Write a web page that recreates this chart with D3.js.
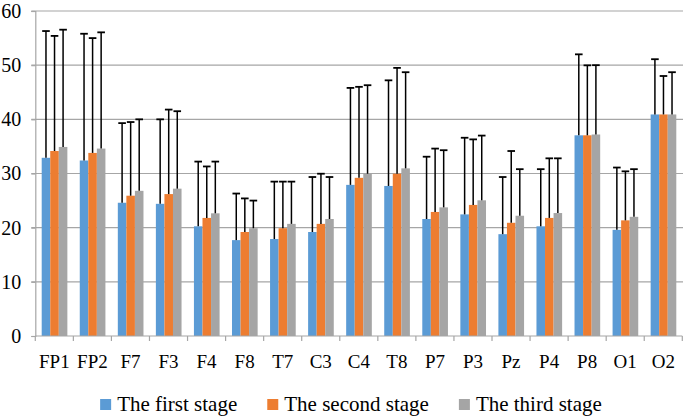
<!DOCTYPE html>
<html>
<head>
<meta charset="utf-8">
<script src="https://cdn.jsdelivr.net/npm/d3@7"></script>
<style>
  html, body { margin: 0; padding: 0; background: #fff; }
  svg { display: block; }
  text { font-family: "Liberation Serif", "Times New Roman", serif; fill: #000; }
</style>
</head>
<body>
<svg id="chart" width="683" height="420"></svg>
<script>
const categories = ["FP1","FP2","F7","F3","F4","F8","T7","C3","C4","T8","P7","P3","Pz","P4","P8","O1","O2"];
const seriesNames = ["The first stage","The second stage","The third stage"];
const firstMean  = [32.9,32.4,24.6,24.4,20.25,17.7,17.9,19.2,27.9,27.7,21.6,22.45,18.8,20.25,37.05,19.6,40.9];
const firstSD    = [23.4,23.4,14.7,15.6,11.95,8.6,10.6,10.15,17.9,19.5,11.5,14.15,10.55,10.55,14.95,11.5,10.2];
const secondMean = [34.15,33.8,25.9,26.2,21.8,19.2,19.9,20.7,29.2,29.96,22.9,24.2,20.9,21.8,37.05,21.35,40.9];
const secondSD   = [21.25,21.2,13.6,15.6,9.5,6.2,8.6,9.26,16.8,19.54,11.7,12.1,13.25,11.0,12.92,9.05,7.1];
const thirdMean  = [34.9,34.6,26.8,27.2,22.65,19.9,20.7,21.6,29.96,30.95,23.75,25.05,22.2,22.7,37.2,22.0,40.9];
const thirdSD    = [21.65,21.46,13.2,14.3,9.55,5.1,7.8,7.75,16.34,17.75,10.55,11.95,8.6,10.1,12.8,8.8,7.8];
const yTicks = [0,10,20,30,40,50,60];
const colors = ["#5b9bd5","#ed7d31","#a5a5a5"];

const means = [firstMean, secondMean, thirdMean];
const sds = [firstSD, secondSD, thirdSD];
const FONT = '"Liberation Serif", "Times New Roman", serif';

const svg = d3.select("#chart");
const mLeft = 35.3, mRight = 682.3, mTop = 11, mBottom = 336;

const y = d3.scaleLinear().domain([0, 60]).range([mBottom, mTop]);
const x0 = d3.scaleBand().domain(categories).range([mLeft, mRight]).padding(0);
const x1 = d3.scaleBand().domain(seriesNames).range([6.4, x0.bandwidth() - 6.0]).padding(0);

// gridlines
svg.append("g").selectAll("line").data(yTicks.filter(t => t > 0)).join("line")
  .attr("x1", mLeft - 4).attr("x2", mRight + 1)
  .attr("y1", d => y(d)).attr("y2", d => y(d))
  .attr("stroke", "#a6a6a6").attr("stroke-width", 1.2);

// y axis
const yAxis = svg.append("g").attr("transform", `translate(${mLeft},0)`)
  .call(d3.axisLeft(y).tickValues(yTicks).tickSize(4).tickPadding(10).tickFormat(d3.format("d")));
yAxis.attr("font-family", FONT);
yAxis.select(".domain").attr("stroke", "#a6a6a6").attr("stroke-width", 1.2);
yAxis.selectAll(".tick line").attr("stroke", "#a6a6a6").attr("stroke-width", 1.2);
yAxis.selectAll(".tick text").attr("font-size", 20).attr("font-family", FONT).attr("fill", "#000");

// bars
const groups = svg.append("g").selectAll("g").data(categories).join("g")
  .attr("transform", d => `translate(${x0(d)},0)`);

groups.selectAll("rect").data((c, i) => seriesNames.map((s, k) => ({s, k, v: means[k][i]}))).join("rect")
  .attr("x", d => x1(d.s)).attr("width", x1.bandwidth())
  .attr("y", d => y(d.v)).attr("height", d => y(0) - y(d.v))
  .attr("fill", d => colors[d.k]);

// error bars
const eb = groups.selectAll("g.err").data((c, i) => seriesNames.map((s, k) => ({s, k, v: means[k][i], e: sds[k][i]}))).join("g")
  .attr("class", "err");
eb.append("line")
  .attr("x1", d => x1(d.s) + x1.bandwidth() / 2).attr("x2", d => x1(d.s) + x1.bandwidth() / 2)
  .attr("y1", d => y(d.v)).attr("y2", d => y(d.v + d.e))
  .attr("stroke", "#000").attr("stroke-width", 1.5);
eb.append("line")
  .attr("x1", d => x1(d.s) + x1.bandwidth() / 2 - 3.8).attr("x2", d => x1(d.s) + x1.bandwidth() / 2 + 3.8)
  .attr("y1", d => y(d.v + d.e)).attr("y2", d => y(d.v + d.e))
  .attr("stroke", "#000").attr("stroke-width", 1.8);

// x axis
const xAxis = svg.append("g").attr("transform", `translate(0,${mBottom})`)
  .call(d3.axisBottom(x0).tickSize(0).tickPadding(19));
xAxis.attr("font-family", FONT);
xAxis.select(".domain").remove();
xAxis.selectAll(".tick text").attr("font-size", 19).attr("font-family", FONT).attr("fill", "#000").attr("dy", "0.71em");
// axis baseline and boundary ticks
svg.append("line").attr("x1", mLeft).attr("x2", mRight).attr("y1", mBottom).attr("y2", mBottom)
  .attr("stroke", "#a6a6a6").attr("stroke-width", 1.2);
svg.append("g").selectAll("line").data(d3.range(categories.length + 1)).join("line")
  .attr("x1", i => mLeft + i * x0.bandwidth()).attr("x2", i => mLeft + i * x0.bandwidth())
  .attr("y1", mBottom).attr("y2", mBottom + 5)
  .attr("stroke", "#a6a6a6").attr("stroke-width", 1.2);

// legend
const legend = svg.append("g").attr("font-family", FONT);
const items = legend.selectAll("g").data(seriesNames).join("g");
items.append("rect").attr("width", 11).attr("height", 11).attr("y", -12).attr("fill", (d, i) => colors[i]);
items.append("text").attr("x", 17).attr("y", 0).attr("font-size", 21).attr("font-family", FONT).text(d => d);
const widths = [];
items.each(function() { widths.push(d3.select(this).select("text").node().getComputedTextLength() + 17); });
const gap = 30;
const total = d3.sum(widths) + gap * (widths.length - 1);
let start = 351 - total / 2;
items.attr("transform", (d, i) => {
  const t = `translate(${start},411)`;
  start += widths[i] + gap;
  return t;
});
</script>
</body>
</html>
